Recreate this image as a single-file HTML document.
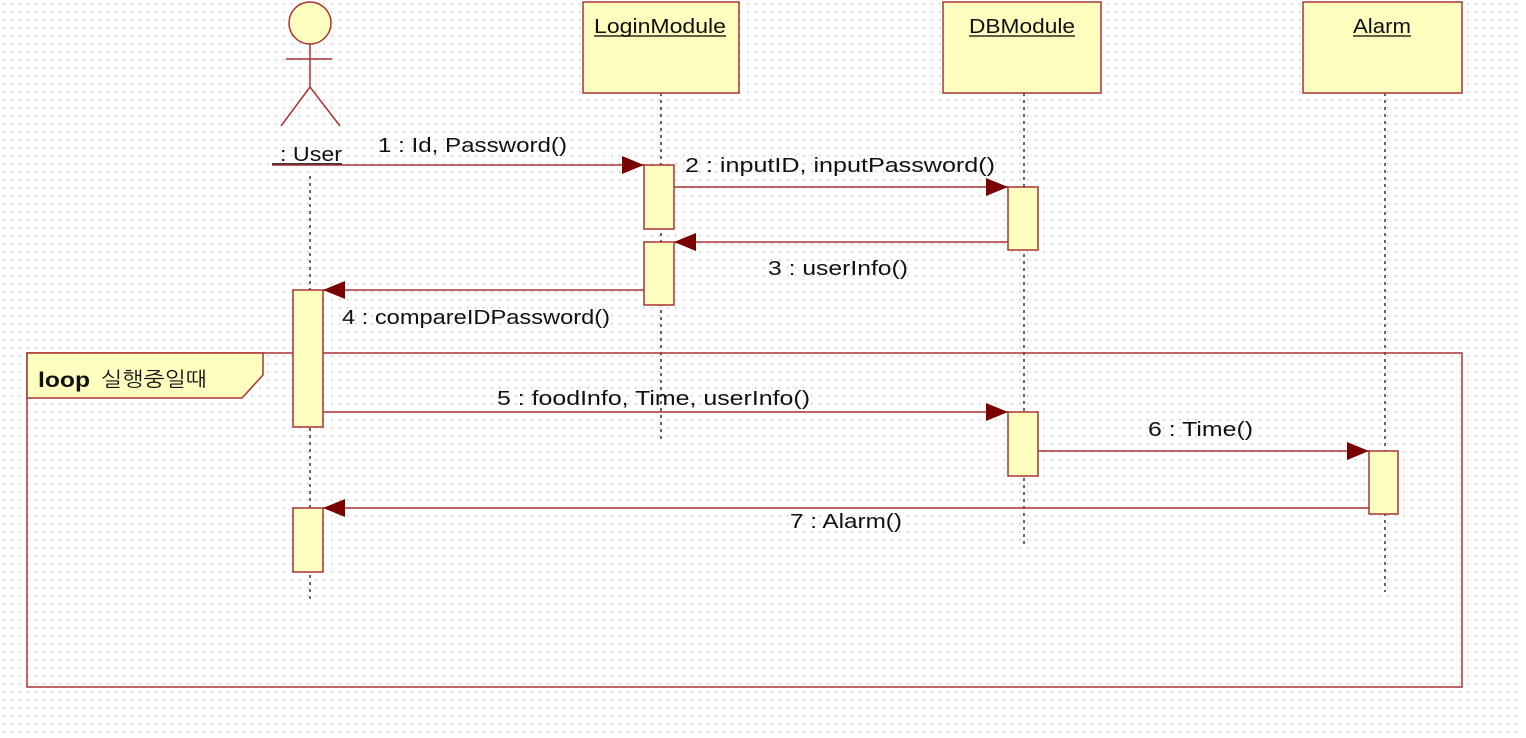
<!DOCTYPE html>
<html><head><meta charset="utf-8"><style>
html,body{margin:0;padding:0;background:#fff;}
body{width:1526px;height:738px;overflow:hidden;}
svg{display:block;}
text{font-family:"Liberation Sans","NanumGothic","Noto Sans CJK KR",sans-serif;font-size:20px;fill:#111;}
</style></head><body>
<svg width="1526" height="738" xmlns="http://www.w3.org/2000/svg">
<defs>
<pattern id="g" width="8" height="8" patternUnits="userSpaceOnUse"><rect x="3" y="3" width="1.5" height="1.5" fill="#c4c4c4"/></pattern>
<marker id="a" markerWidth="24" markerHeight="20" refX="22" refY="9" orient="auto" markerUnits="userSpaceOnUse"><path d="M0,0 L22,9 L0,18 Z" fill="#7a0000"/></marker>
</defs>
<rect width="1526" height="738" fill="#fff"/>
<rect width="1518" height="738" fill="url(#g)"/>
<g stroke="#a33" fill="none" stroke-width="1.5">
<circle cx="310" cy="23" r="21" fill="#ffffc0"/>
<line x1="310" y1="44" x2="310" y2="87"/>
<line x1="286" y1="59" x2="332" y2="59"/>
<line x1="310" y1="87" x2="281" y2="126"/>
<line x1="310" y1="87" x2="340" y2="126"/>
</g>
<text x="280" y="161" textLength="62" lengthAdjust="spacingAndGlyphs">: User</text>
<line x1="272" y1="164" x2="342" y2="164" stroke="#000" stroke-width="1.5"/>
<g stroke="#000" stroke-width="1.2" stroke-dasharray="3,4">
<line x1="310" y1="176" x2="310" y2="600"/>
<line x1="661" y1="93" x2="661" y2="443"/>
<line x1="1024" y1="93" x2="1024" y2="548"/>
<line x1="1385" y1="93" x2="1385" y2="592"/>
</g>
<rect x="27" y="353" width="1435" height="334" fill="none" stroke="#a33" stroke-width="1.5"/>
<path d="M27,353 L263,353 L263,375 L242,398 L27,398 Z" fill="#ffffc0" stroke="#a33" stroke-width="1.5"/>
<text x="38" y="387" textLength="52" lengthAdjust="spacingAndGlyphs" style="font-weight:bold;font-size:21px">loop</text>
<text x="101" y="386" textLength="106" lengthAdjust="spacingAndGlyphs">실행중일때</text>
<g fill="#ffffc0" stroke="#a33" stroke-width="1.5">
<rect x="583" y="2" width="156" height="91"/>
<rect x="943" y="2" width="158" height="91"/>
<rect x="1303" y="2" width="159" height="91"/>
</g>
<text x="594" y="33" textLength="132" lengthAdjust="spacingAndGlyphs">LoginModule</text>
<text x="969" y="33" textLength="106" lengthAdjust="spacingAndGlyphs">DBModule</text>
<text x="1353" y="33" textLength="58" lengthAdjust="spacingAndGlyphs">Alarm</text>
<g stroke="#000" stroke-width="1.3">
<line x1="594" y1="36" x2="726" y2="36"/>
<line x1="969" y1="36" x2="1075" y2="36"/>
<line x1="1353" y1="36" x2="1411" y2="36"/>
</g>
<g fill="#ffffc0" stroke="#a33" stroke-width="1.5">
<rect x="644" y="165" width="30" height="64"/>
<rect x="644" y="242" width="30" height="63"/>
<rect x="1008" y="187" width="30" height="63"/>
<rect x="1008" y="412" width="30" height="64"/>
<rect x="293" y="290" width="30" height="137"/>
<rect x="293" y="508" width="30" height="64"/>
<rect x="1369" y="451" width="29" height="63"/>
</g>
<g stroke="#a33" stroke-width="1.5" marker-end="url(#a)">
<line x1="272" y1="165" x2="644" y2="165"/>
<line x1="674" y1="187" x2="1008" y2="187"/>
<line x1="1008" y1="242" x2="674" y2="242"/>
<line x1="644" y1="290" x2="323" y2="290"/>
<line x1="323" y1="412" x2="1008" y2="412"/>
<line x1="1038" y1="451" x2="1369" y2="451"/>
<line x1="1369" y1="508" x2="323" y2="508"/>
</g>
<text x="378" y="152" textLength="189" lengthAdjust="spacingAndGlyphs">1 : Id, Password()</text>
<text x="685" y="172" textLength="310" lengthAdjust="spacingAndGlyphs">2 : inputID, inputPassword()</text>
<text x="768" y="275" textLength="140" lengthAdjust="spacingAndGlyphs">3 : userInfo()</text>
<text x="342" y="324" textLength="268" lengthAdjust="spacingAndGlyphs">4 : compareIDPassword()</text>
<text x="497" y="405" textLength="313" lengthAdjust="spacingAndGlyphs">5 : foodInfo, Time, userInfo()</text>
<text x="1148" y="436" textLength="105" lengthAdjust="spacingAndGlyphs">6 : Time()</text>
<text x="790" y="528" textLength="112" lengthAdjust="spacingAndGlyphs">7 : Alarm()</text>
</svg>
</body></html>
